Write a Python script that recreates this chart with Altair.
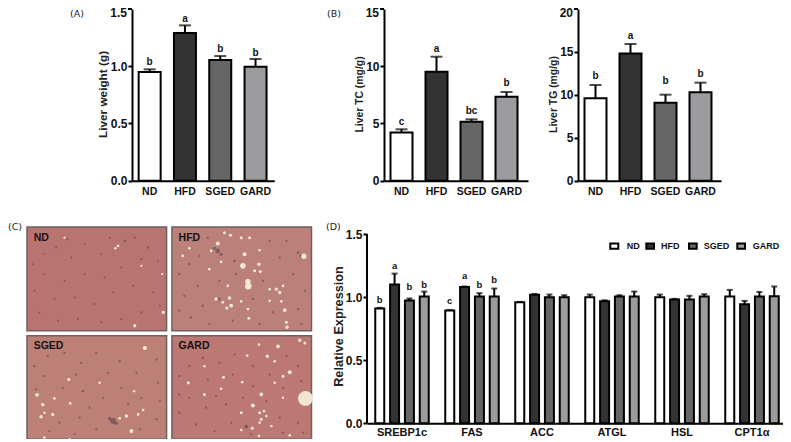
import altair as alt
import pandas as pd

FONT = "Liberation Sans"
GROUPS = ["ND", "HFD", "SGED", "GARD"]
FILLS = ["#ffffff", "#333333", "#666666", "#9b9ba0"]

# Panel A
LW_VAL = [0.95, 1.29, 1.054, 0.996]
LW_ERR = [0.973, 1.357, 1.089, 1.063]
LW_LET = ["b", "a", "b", "b"]
LW_LY = [1.034, 1.41, 1.148, 1.113]
# Panel B
TC_VAL = [4.2, 9.52, 5.15, 7.34]
TC_ERR = [4.49, 10.83, 5.36, 7.75]
TC_LET = ["c", "a", "bc", "b"]
TC_LY = [5.1, 11.53, 6.12, 8.53]
TG_VAL = [9.6, 14.83, 9.09, 10.29]
TG_ERR = [11.15, 15.92, 10.02, 11.42]
TG_LET = ["b", "a", "b", "b"]
TG_LY = [12.16, 16.9, 11.57, 12.43]
# Panel D
GENES = ["SREBP1c", "FAS", "ACC", "ATGL", "HSL", "CPT1α"]
EXP_VAL = [
    [0.91, 1.10, 0.973, 1.004],
    [0.894, 1.081, 1.004, 1.004],
    [0.96, 1.018, 0.999, 0.999],
    [0.999, 0.968, 1.004, 1.004],
    [0.999, 0.981, 0.981, 1.004],
    [1.004, 0.944, 1.004, 1.007],
]
EXP_ERR = [
    [0.915, 1.186, 0.989, 1.044],
    [0.897, 1.084, 1.031, 1.068],
    [0.962, 1.025, 1.02, 1.015],
    [1.02, 0.975, 1.015, 1.044],
    [1.02, 0.986, 1.01, 1.023],
    [1.057, 0.97, 1.041, 1.084],
]
EXP_LET = [["b", "a", "b", "b"], ["c", "a", "b", "b"]]
EXP_LY = [[0.98, 1.25, 1.08, 1.094], [0.973, 1.17, 1.097, 1.139]]

TILE_COLORS = {"ND": "#b8746f", "HFD": "#ba8079", "SGED": "#bd8076", "GARD": "#bc7873"}
TILE_CELL = {"ND": (0, 0), "HFD": (1, 0), "SGED": (0, 1), "GARD": (1, 1)}
SPOTS = {
    "ND": [(330, 305, 10), (415, 265, 12), (280, 65, 8), (272, 72, 6), (350, 125, 5), (120, 40, 5), (412, 150, 5)],
    "HFD": [(402, 96, 28), (220, 125, 32), (235, 172, 30), (236, 186, 42), (145, 58, 16), (225, 90, 16), (165, 25, 9),
            (183, 33, 9), (215, 40, 9), (240, 40, 9), (270, 78, 7), (268, 120, 12), (255, 140, 9), (272, 142, 9),
            (155, 113, 7), (120, 135, 7), (140, 225, 12), (180, 222, 12), (185, 245, 14), (172, 252, 10),
            (160, 235, 7), (320, 195, 10), (330, 205, 12), (300, 195, 7), (340, 185, 7), (345, 258, 14),
            (238, 283, 9), (352, 310, 12), (350, 295, 9), (215, 232, 7), (235, 255, 7), (40, 95, 7), (60, 72, 7),
            (125, 80, 7), (175, 185, 7), (300, 230, 7), (335, 232, 7)],
    "SGED": [(360, 45, 16), (38, 186, 14), (55, 216, 12), (133, 140, 10), (90, 197, 8), (137, 212, 8), (85, 245, 10),
             (50, 252, 12), (60, 240, 7), (320, 295, 16), (305, 250, 12), (355, 232, 7), (340, 245, 7), (60, 315, 7),
             (285, 257, 7), (328, 175, 6), (225, 150, 6), (135, 320, 6)],
    "GARD": [(407, 197, 220), (325, 40, 14), (293, 70, 12), (360, 118, 16), (340, 130, 9), (390, 22, 12), (405, 30, 9),
             (268, 35, 7), (233, 68, 7), (315, 85, 7), (275, 185, 14), (250, 218, 16), (162, 133, 9), (57, 150, 10),
             (105, 185, 9), (215, 240, 9), (270, 240, 9), (283, 235, 7), (290, 250, 7), (275, 260, 9), (248, 287, 9),
             (215, 292, 7), (305, 280, 7), (268, 310, 7), (360, 308, 7), (218, 148, 7), (155, 168, 7), (340, 195, 6),
             (315, 150, 6), (105, 100, 6), (270, 270, 7)],
}
DARK = {
    "ND": [(60, 90, 4), (95, 70, 4), (140, 100, 4), (180, 60, 4), (230, 90, 4), (300, 50, 5), (330, 40, 5), (370, 70, 5),
           (400, 110, 4), (350, 105, 5), (290, 130, 4), (240, 160, 4), (180, 150, 4), (120, 170, 4), (60, 150, 4),
           (30, 200, 4), (90, 225, 4), (150, 220, 4), (210, 240, 4), (265, 205, 4), (325, 185, 4), (385, 205, 4),
           (405, 245, 4), (350, 265, 5), (290, 285, 5), (230, 295, 4), (160, 285, 4), (100, 290, 4), (45, 265, 4),
           (25, 120, 4), (130, 45, 4), (255, 40, 4)],
    "HFD": [(145, 80, 22), (135, 72, 10), (155, 90, 10), (395, 95, 14), (385, 85, 8), (148, 225, 10), (60, 120, 5), (30, 150, 5),
            (85, 185, 5), (45, 215, 5), (100, 245, 6), (65, 280, 6), (30, 260, 5), (120, 300, 5), (190, 290, 5),
            (270, 300, 5), (310, 265, 5), (385, 255, 5), (405, 200, 5), (370, 150, 5), (330, 100, 5), (300, 50, 5),
            (350, 50, 5), (195, 110, 5), (115, 40, 5), (70, 50, 5), (200, 150, 5), (150, 170, 5), (280, 170, 5),
            (250, 225, 5), (90, 95, 5), (395, 300, 5)],
    "SGED": [(265, 265, 34), (255, 258, 12), (275, 272, 12), (70, 70, 5), (120, 60, 5), (170, 90, 5), (215, 60, 5), (285, 85, 5),
             (335, 120, 5), (395, 80, 5), (400, 150, 5), (350, 195, 5), (290, 165, 5), (235, 195, 5), (175, 175, 6),
             (115, 165, 5), (60, 130, 5), (30, 100, 5), (35, 170, 5), (105, 270, 5), (165, 255, 5), (215, 290, 5),
             (150, 305, 5), (345, 290, 5), (395, 260, 5), (405, 205, 5), (195, 225, 5), (75, 295, 5), (310, 215, 5),
             (250, 120, 5), (155, 125, 5)],
    "GARD": [(230, 282, 14), (100, 75, 6), (60, 100, 5), (30, 130, 5), (150, 90, 5), (195, 65, 5), (250, 100, 5), (300, 125, 5),
             (385, 100, 5), (395, 145, 5), (340, 165, 5), (290, 205, 5), (220, 195, 5), (170, 215, 5), (110, 225, 5),
             (60, 195, 5), (30, 240, 5), (80, 275, 5), (135, 295, 5), (185, 270, 5), (330, 255, 5), (385, 270, 5),
             (400, 300, 5), (340, 300, 5), (115, 140, 5), (190, 125, 5), (250, 160, 5), (30, 185, 5), (140, 190, 5),
             (350, 70, 5), (245, 305, 5)],
}
# Panel D key: swatch left/right and text start inside the plot, one per group
KEY_X0 = [243.3, 279.3, 322, 370.3]
KEY_X1 = [251.3, 287, 329.7, 378]
KEY_TX = [259.7, 294, 336.7, 385.7]

TILE_W, TILE_H, GAP_X, GAP_Y = 417, 312, 16, 15
PIC_X0, PIC_Y0 = 8, 8
D_H, D_TOTAL = 189.3, 196.3


def spacer(w, h, label=None, tx=0, ty=0):
    df = pd.DataFrame({"t": [label or ""]})
    return alt.Chart(df).mark_text(
        font="DejaVu Sans", fontSize=9.5, align="left", baseline="middle", color="#222222"
    ).encode(x=alt.value(tx), y=alt.value(ty), text="t:N").properties(width=w, height=h)


def bar_panel(vals, errs, lets, ly, title, ymax, ticks, fmt, top_label, width, p, tx, ty, tsize):
    df = pd.DataFrame({"g": GROUPS, "v": vals, "e": errs, "l": lets, "ly": ly})
    x = alt.X("g:N", sort=GROUPS, scale=alt.Scale(paddingInner=0, paddingOuter=p, align=0),
              axis=alt.Axis(title=None, labelAngle=0, ticks=False, domainWidth=2, domainColor="black",
                            labelFont=FONT, labelFontWeight="bold", labelFontSize=10.5, labelColor="#111111",
                            labelPadding=6))
    yax = alt.Axis(title=title, values=ticks, format=fmt, grid=False, domainWidth=2, domainColor="black",
                   tickWidth=2, tickColor="black", tickSize=4, labelFont=FONT, labelFontWeight="bold",
                   labelFontSize=12, labelColor="#111111", labelPadding=1,
                   titleFont=FONT, titleFontWeight="bold", titleFontSize=tsize, titleColor="#222222",
                   titleX=tx, titleY=ty)
    sc = alt.Scale(domain=[0, ymax], nice=False)
    y = alt.Y("v:Q", scale=sc, axis=yax, stack=None, title=title)
    base = alt.Chart(df).encode(x=x)
    rule = base.mark_rule(color="black", strokeWidth=2).encode(y=y, y2="e:Q")
    cap = base.mark_tick(color="black", size=12, thickness=2).encode(
        y=alt.Y("e:Q", scale=sc, axis=yax, title=title))
    bar = base.mark_bar(size=22, stroke="black", strokeWidth=2).encode(
        y=y, fill=alt.Fill("g:N", sort=GROUPS, scale=alt.Scale(domain=GROUPS, range=FILLS), legend=None))
    txt = base.mark_text(font=FONT, fontWeight="bold", fontSize=10, color="#111111", baseline="middle").encode(
        y=alt.Y("ly:Q", scale=sc, axis=yax, title=title), text="l:N")
    # Top tick and its label drawn as marks so the label can sit just inside the page's upper edge
    tdf = pd.DataFrame({"v": [ymax], "t": [top_label]})
    top = alt.Chart(tdf).mark_text(
        font=FONT, fontWeight="bold", fontSize=12, color="#111111", align="right", baseline="middle", dy=4
    ).encode(x=alt.value(-5), y=alt.Y("v:Q", scale=sc, axis=yax, title=title), text="t:N")
    top_tick = alt.Chart(tdf).mark_rule(color="black", strokeWidth=2).encode(
        x=alt.value(-4), x2=alt.value(0), y=alt.Y("v:Q", scale=sc, axis=yax, title=title))
    return alt.layer(rule, cap, bar, txt, top_tick, top).properties(width=width, height=171.7)


def histology_panel():
    tiles, spots, dark = [], [], []
    for name, (c, r) in TILE_CELL.items():
        ox, oy = c * (TILE_W + GAP_X), r * (TILE_H + GAP_Y)
        tiles.append({"n": name, "f": TILE_COLORS[name], "x0": ox, "x1": ox + TILE_W, "y0": oy, "y1": oy + TILE_H,
                      "tx": ox + 20, "ty": oy + 32})
        for sx, sy, s in SPOTS[name]:
            spots.append({"x": ox + sx - PIC_X0, "y": oy + sy - PIC_Y0, "s": s})
        for sx, sy, s in DARK[name]:
            dark.append({"x": ox + sx - PIC_X0, "y": oy + sy - PIC_Y0, "s": s})
    xs = alt.Scale(domain=[0, 2 * TILE_W + GAP_X], nice=False)
    ys = alt.Scale(domain=[2 * TILE_H + GAP_Y, 0], nice=False)
    tdf = pd.DataFrame(tiles)
    rect = alt.Chart(tdf).mark_rect(stroke="#6e5f60", strokeWidth=1.5).encode(
        x=alt.X("x0:Q", scale=xs, axis=None), x2="x1:Q",
        y=alt.Y("y0:Q", scale=ys, axis=None), y2="y1:Q",
        fill=alt.Fill("f:N", scale=None))
    d = alt.Chart(pd.DataFrame(dark)).mark_circle(color="#5f4150", opacity=0.6).encode(
        x=alt.X("x:Q", scale=xs, axis=None), y=alt.Y("y:Q", scale=ys, axis=None),
        size=alt.Size("s:Q", scale=None, legend=None))
    s = alt.Chart(pd.DataFrame(spots)).mark_circle(color="#f4ecd8", opacity=0.95).encode(
        x=alt.X("x:Q", scale=xs, axis=None), y=alt.Y("y:Q", scale=ys, axis=None),
        size=alt.Size("s:Q", scale=None, legend=None))
    lab = alt.Chart(tdf).mark_text(font=FONT, fontWeight="bold", fontSize=10.5, color="#1a1214", align="left",
                                   baseline="middle").encode(
        x=alt.X("tx:Q", scale=xs, axis=None), y=alt.Y("ty:Q", scale=ys, axis=None), text="n:N")
    return alt.layer(rect, d, s, lab).properties(width=284.5, height=212.3)


def expression_panel():
    rows = []
    for gi, gene in enumerate(GENES):
        for k, g in enumerate(GROUPS):
            rows.append({"gene": gene, "g": g, "v": EXP_VAL[gi][k], "e": EXP_ERR[gi][k]})
    df = pd.DataFrame(rows)
    lrows = []
    for gi in range(len(EXP_LET)):
        for k, g in enumerate(GROUPS):
            lrows.append({"gene": GENES[gi], "g": g, "l": EXP_LET[gi][k], "ly": EXP_LY[gi][k]})
    ldf = pd.DataFrame(lrows)
    x = alt.X("gene:N", sort=GENES, scale=alt.Scale(paddingInner=0, paddingOuter=0),
              axis=alt.Axis(title=None, labelAngle=0, ticks=False, domainWidth=2, domainColor="black",
                            labelFont=FONT, labelFontWeight="bold", labelFontSize=11, labelColor="#111111",
                            labelPadding=3))
    xo = alt.XOffset("g:N", sort=GROUPS, scale=alt.Scale(paddingInner=0, paddingOuter=0.36))
    # Plot height runs 7px above the 1.5 tick so the panel lines up with the micrographs' top edge
    sc = alt.Scale(domain=[0, 1.5 * D_TOTAL / D_H], nice=False)
    ttl = "Relative Expression"
    yax = alt.Axis(title=ttl, values=[0, 0.5, 1.0, 1.5], format=".1f", grid=False, domain=False,
                   tickWidth=2, tickColor="black", tickSize=4, labelFont=FONT,
                   labelFontWeight="bold", labelFontSize=12, labelColor="#111111", labelPadding=1,
                   titleFont=FONT, titleFontWeight="bold", titleFontSize=12.7, titleColor="#222222",
                   titleX=-22, titleY=99)
    y = alt.Y("v:Q", scale=sc, axis=yax, stack=None, title=ttl)
    axis_line = alt.Chart(pd.DataFrame({"a": [0], "b": [1.5]})).mark_rule(color="black", strokeWidth=2).encode(
        x=alt.value(0), y=alt.Y("a:Q", scale=sc, axis=yax, title=ttl), y2="b:Q")
    base = alt.Chart(df).encode(x=x, xOffset=xo)
    rule = base.mark_rule(color="black", strokeWidth=2).encode(y=y, y2="e:Q")
    cap = base.mark_tick(color="black", size=6, thickness=2).encode(y=alt.Y("e:Q", scale=sc, axis=yax, title=ttl))
    bar = base.mark_bar(size=9, stroke="black", strokeWidth=2).encode(
        y=y, fill=alt.Fill("g:N", sort=GROUPS, scale=alt.Scale(domain=GROUPS, range=FILLS), legend=None))
    txt = alt.Chart(ldf).mark_text(font=FONT, fontWeight="bold", fontSize=9.5, color="#111111", baseline="middle").encode(
        x=x, xOffset=xo, y=alt.Y("ly:Q", scale=sc, axis=yax, title=ttl), text="l:N")
    key = []
    for g, f, x0, x1, tx in zip(GROUPS, FILLS, KEY_X0, KEY_X1, KEY_TX):
        kd = pd.DataFrame({"t": [g]})
        key.append(alt.Chart(kd).mark_rect(fill=f, stroke="black", strokeWidth=2).encode(
            x=alt.value(x0), x2=alt.value(x1), y=alt.value(16.5), y2=alt.value(21.8)))
        key.append(alt.Chart(kd).mark_text(font=FONT, fontWeight="bold", fontSize=9, color="#111111", align="left",
                                           baseline="middle").encode(x=alt.value(tx), y=alt.value(19.1), text="t:N"))
    return alt.layer(axis_line, rule, cap, bar, txt, *key).properties(width=420, height=D_TOTAL)


a = bar_panel(LW_VAL, LW_ERR, LW_LET, LW_LY, "Liver weight (g)", 1.5, [0, 0.5, 1.0], ".1f", "1.5", 142.3, 0.0156, -24, 85, 11.8)
b1 = bar_panel(TC_VAL, TC_ERR, TC_LET, TC_LY, "Liver TC (mg/g)", 15, [0, 5, 10], "d", "15", 144, 0.057, -19.5, 85, 10.4)
b2 = bar_panel(TG_VAL, TG_ERR, TG_LET, TG_LY, "Liver TG (mg/g)", 20, [0, 5, 10, 15], "d", "20", 143, 0.043, -19.5, 85, 10.4)

row1 = alt.hconcat(spacer(123.7, 171.7, "(A)", 62, 5), a, spacer(109, 171.7, "(B)", 52, 5), b1, spacer(50, 171.7, None, 0, 6), b2,
                   spacing=0, bounds="flush")
row2 = alt.hconcat(spacer(19, 100, "(C)", 0, 0), histology_panel(), spacer(54.5, 100, "(D)", 14, 0), expression_panel(),
                   spacing=0, bounds="flush")

chart = alt.vconcat(row1, row2, spacing=24).properties(
    padding={"left": 0, "top": -1, "right": -4, "bottom": -2}
).configure_view(stroke=None)

chart.save("out.html", embed_options={"renderer": "svg", "actions": False})
